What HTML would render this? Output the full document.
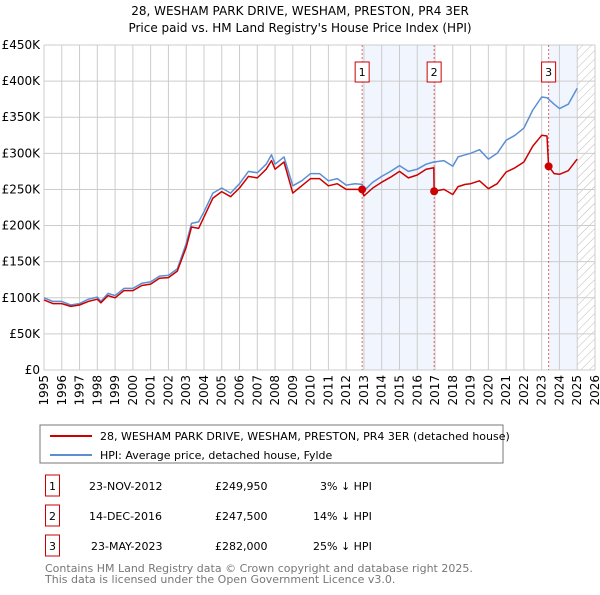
<!DOCTYPE html>
<html><head><meta charset="utf-8"><style>
body{margin:0;background:#fff;font-family:"Liberation Sans","DejaVu Sans",sans-serif}
svg text{font-family:"DejaVu Sans","Liberation Sans",sans-serif}
</style></head><body>
<svg id="chart" width="600" height="590" viewBox="0 0 600 590">
<text x="300" y="15" text-anchor="middle" font-size="12">28, WESHAM PARK DRIVE, WESHAM, PRESTON, PR4 3ER</text>
<text x="300" y="32" text-anchor="middle" font-size="12">Price paid vs. HM Land Registry's House Price Index (HPI)</text>
<defs><pattern id="hatch" width="6" height="6" patternUnits="userSpaceOnUse" patternTransform="rotate(45)"><line x1="0" y1="0" x2="0" y2="6" stroke="#bbb" stroke-width="1"/></pattern></defs>
<g id="plot"></g>
<rect x="40" y="425" width="463" height="38" fill="#fff" stroke="#777"/>
<line x1="50" y1="436" x2="92" y2="436" stroke="#cc0000" stroke-width="2"/>
<text x="100" y="440" font-size="11">28, WESHAM PARK DRIVE, WESHAM, PRESTON, PR4 3ER (detached house)</text>
<line x1="50" y1="455" x2="92" y2="455" stroke="#5b8fd4" stroke-width="2"/>
<text x="100" y="459" font-size="11">HPI: Average price, detached house, Fylde</text>
<g font-size="11">
<rect x="45.5" y="475" width="14" height="21" fill="none" stroke="#cc0000"/><text x="52.5" y="490" text-anchor="middle">1</text>
<text x="89" y="490">23-NOV-2012</text><text x="215" y="490">£249,950</text><text x="320" y="490">3% ↓ HPI</text>
<rect x="45.5" y="505" width="14" height="21" fill="none" stroke="#cc0000"/><text x="52.5" y="520" text-anchor="middle">2</text>
<text x="89" y="520">14-DEC-2016</text><text x="215" y="520">£247,500</text><text x="313" y="520">14% ↓ HPI</text>
<rect x="45.5" y="535" width="14" height="21" fill="none" stroke="#cc0000"/><text x="52.5" y="550" text-anchor="middle">3</text>
<text x="91" y="550">23-MAY-2023</text><text x="215" y="550">£282,000</text><text x="313" y="550">25% ↓ HPI</text>
</g>
<text x="45" y="572" font-size="11" fill="#777">Contains HM Land Registry data © Crown copyright and database right 2025.</text>
<text x="45" y="583" font-size="11" fill="#777">This data is licensed under the Open Government Licence v3.0.</text>
</svg>
<script>
const dates=[1995,1995.5,1996,1996.5,1997,1997.5,1998,1998.2,1998.6,1999,1999.5,2000,2000.5,2001,2001.5,2002,2002.5,2003,2003.3,2003.7,2004,2004.5,2005,2005.5,2006,2006.5,2007,2007.5,2007.8,2008,2008.5,2009,2009.5,2010,2010.5,2011,2011.5,2012,2012.5,2012.9,2013,2013.5,2014,2014.5,2015,2015.5,2016,2016.5,2016.93,2016.95,2017.5,2018,2018.3,2018.7,2019,2019.5,2020,2020.5,2021,2021.5,2022,2022.5,2023,2023.3,2023.39,2023.7,2024,2024.5,2025];
const hpiValues=[100,95,95,90,92,98,101,95,106,103,113,113,120,122,130,131,140,175,203,205,219,245,252,245,258,275,273,285,298,285,295,255,262,272,272,262,265,256,258,257,248,260,268,275,283,275,278,285,288,288,290,282,295,298,300,305,292,300,318,325,335,360,378,377,375,368,362,368,390];
const priceValues=[97,92,92,88,90,95,98,93,103,100,110,110,117,119,127,128,137,170,198,196,212,238,247,240,252,268,266,278,290,278,288,245,255,265,265,255,258,250,250,249.95,241,252,260,267,275,266,270,278,280,247.5,250,243,254,257,258,262,251,258,274,280,288,310,325,324,282,272,271,276,292];
const saleDates=[2012.9,2016.95,2023.39];
const saleValues=[249.95,247.5,282];
const saleLabels=["1","2","3"];
const yTicks=[0,50,100,150,200,250,300,350,400,450];
const yTickLabels=["£0","£50K","£100K","£150K","£200K","£250K","£300K","£350K","£400K","£450K"];
const xYears=[1995,1996,1997,1998,1999,2000,2001,2002,2003,2004,2005,2006,2007,2008,2009,2010,2011,2012,2013,2014,2015,2016,2017,2018,2019,2020,2021,2022,2023,2024,2025,2026];

const NS="http://www.w3.org/2000/svg";
const g=document.getElementById('plot');
const X0=44,X1=595,Y0=370,Y1=45;
const x=t=>X0+(t-1995)*(X1-X0)/31;
const y=v=>Y0-v*(Y0-Y1)/450;
function mk(tag,attrs){const e=document.createElementNS(NS,tag);for(const k in attrs)e.setAttribute(k,attrs[k]);g.appendChild(e);return e;}

let e;
e=mk('rect',{x:x(saleDates[0]),y:Y1,width:x(saleDates[1])-x(saleDates[0]),height:Y0-Y1,fill:'#eef3fc',opacity:0.8});


e=mk('rect',{x:x(saleDates[2]),y:Y1,width:x(2025)-x(saleDates[2]),height:Y0-Y1,fill:'#eef3fc',opacity:0.8});


e=mk('rect',{x:x(2025),y:Y1,width:X1-x(2025),height:Y0-Y1,fill:'url(#hatch)'});



yTicks.forEach((v,i)=>{
  e=mk('line',{x1:X0,x2:X1,y1:y(v),y2:y(v),stroke:'#ccc','stroke-width':1});
  
  
  e=mk('text',{x:X0-4,y:y(v)+4,'text-anchor':'end','font-size':12});
  e.textContent=yTickLabels[i];
  
  
});
xYears.forEach(t=>{
  e=mk('line',{x1:x(t),x2:x(t),y1:Y1,y2:Y0,stroke:'#ccc','stroke-width':1});
  
  
  e=mk('text',{x:0,y:0,'text-anchor':'end','font-size':12,transform:`translate(${x(t)+4},${Y0+5}) rotate(-90)`});
  e.textContent=t;
  
  
});
saleDates.forEach((t,i)=>{
  e=mk('line',{x1:x(t),x2:x(t),y1:Y1,y2:Y0,stroke:'#e06666','stroke-width':1,'stroke-dasharray':'2,2'});
  
  
});
function path(vals,color,name){
  const d=dates.map((t,i)=>(i?'L':'M')+x(t).toFixed(1)+','+y(vals[i]).toFixed(1)).join('');
  e=mk('path',{d:d,fill:'none',stroke:color,'stroke-width':1.5,'stroke-linejoin':'round'});
  
  
}
path(hpiValues,'#5b8fd4','hpi-line');
path(priceValues,'#cc0000','price-paid-line');
saleDates.forEach((t,i)=>{
  e=mk('circle',{cx:x(t),cy:y(saleValues[i]),r:4,fill:'#cc0000'});
  
  
  e=mk('rect',{x:x(t)-7,y:62,width:14,height:20,fill:'#fff',stroke:'#cc0000'});
  
  
  e=mk('text',{x:x(t),y:76,'text-anchor':'middle','font-size':11});
  e.textContent=saleLabels[i];
  
  
});
</script>
</body></html>
